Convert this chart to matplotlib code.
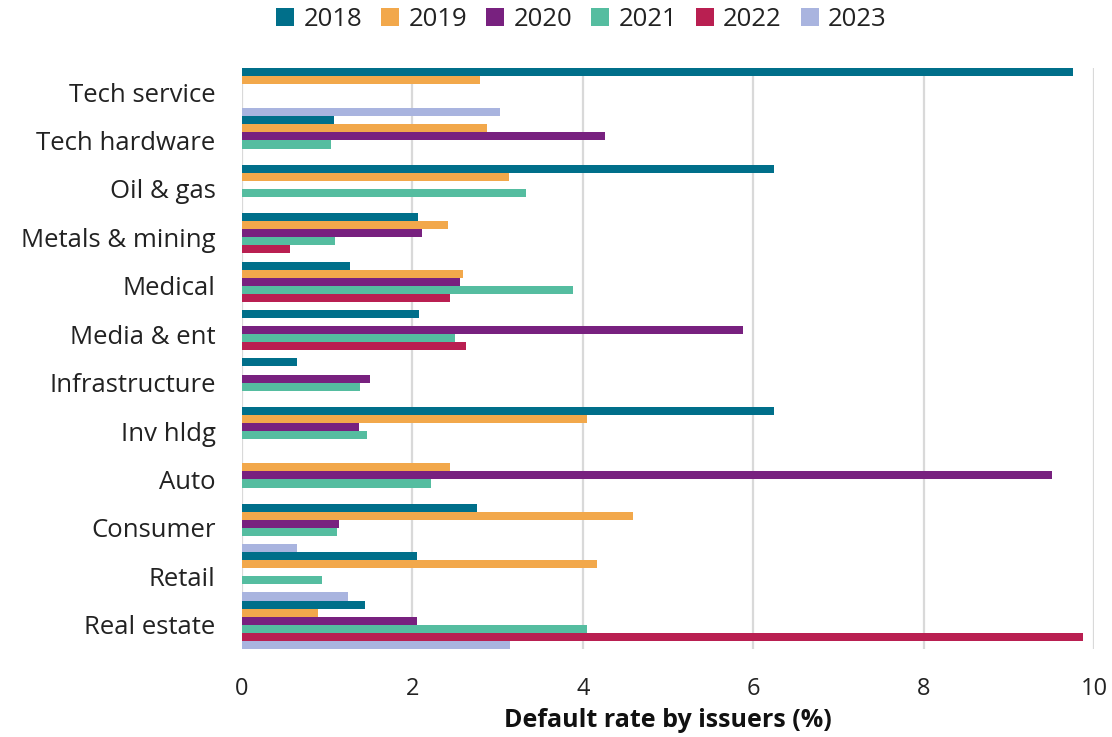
import numpy as np
import matplotlib
matplotlib.use("Agg")
import matplotlib.pyplot as plt

nan = np.nan

# sectors, top to bottom
sectors = ["Tech service", "Tech hardware", "Oil & gas", "Metals & mining", "Medical",
           "Media & ent", "Infrastructure", "Inv hldg", "Auto", "Consumer", "Retail",
           "Real estate"]
years = ["2018", "2019", "2020", "2021", "2022", "2023"]

# default rate by issuers (%), one list per year, nan = no defaults
rate_2018 = [9.75, 1.08, 6.25, 2.07, 1.27, 2.08, 0.64, 6.25, nan, 2.76, 2.06, 1.44]
rate_2019 = [2.79, 2.88, 3.13, 2.42, 2.60, nan, nan, 4.05, 2.44, 4.59, 4.17, 0.89]
rate_2020 = [nan, 4.26, nan, 2.11, 2.56, 5.88, 1.50, 1.37, 9.51, 1.14, nan, 2.05]
rate_2021 = [nan, 1.04, 3.33, 1.09, 3.89, 2.50, 1.39, 1.47, 2.22, 1.12, 0.94, 4.05]
rate_2022 = [nan, nan, nan, 0.56, 2.44, 2.63, nan, nan, nan, nan, nan, 9.87]
rate_2023 = [3.03, nan, nan, nan, nan, nan, nan, nan, nan, 0.65, 1.25, 3.14]

colors = ["#006F8A", "#F2A84B", "#78217F", "#55BDA0", "#B91F51", "#A9B4DF"]

series = [rate_2018, rate_2019, rate_2020, rate_2021, rate_2022, rate_2023]

plt.rcParams["font.family"] = ["Open Sans", "DejaVu Sans"]

fig = plt.figure(figsize=(11.12, 7.37), dpi=100)
ax = fig.add_axes([0.2176, 0.1194, 0.7662, 0.7886])

y = np.arange(len(sectors))
h = 1.0 / len(years)
for i, (yr, vals) in enumerate(zip(years, series)):
    ax.barh(y + (i - 2.5) * h, vals, height=h, color=colors[i], label=yr,
            linewidth=0, zorder=3)

ax.set_xlim(0, 10)
ax.set_ylim(len(sectors) - 0.5, -0.5)
ax.set_xticks([0, 2, 4, 6, 8, 10])
ax.set_yticks(y)
ax.set_yticklabels(sectors)

ax.grid(axis="x", color="#D9D9D9", linewidth=1.6, zorder=0)
for s in ax.spines.values():
    s.set_visible(False)
ax.tick_params(axis="both", length=0, colors="#222222")
ax.tick_params(axis="y", pad=19, labelsize=18.5)
ax.tick_params(axis="x", pad=20, labelsize=17)

ax.set_xlabel("Default rate by issuers (%)", fontsize=18, fontweight="bold",
              color="#111111", labelpad=5)

fig.legend(loc="upper center", bbox_to_anchor=(0.523, 1.022), ncol=6, frameon=False,
           fontsize=18.5, handlelength=0.7, handleheight=0.7, handletextpad=0.35,
           columnspacing=0.75, labelcolor="#222222")

fig.savefig("out.png", dpi=100)
